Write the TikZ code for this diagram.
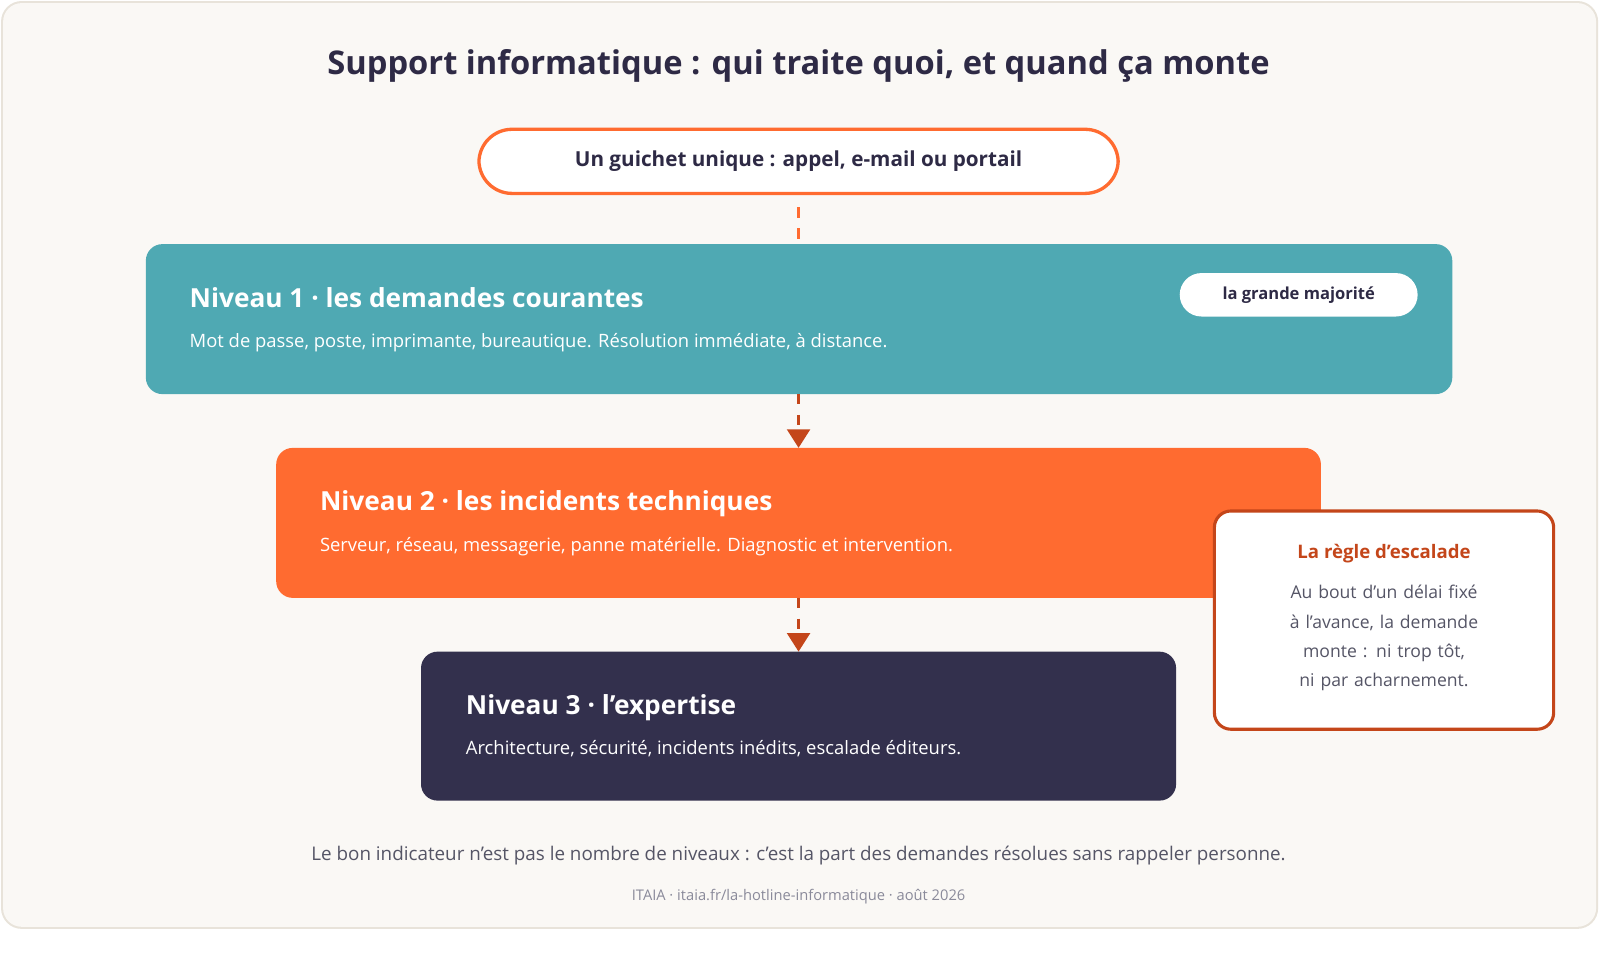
\documentclass[tikz,border=0pt]{standalone}
\usepackage{fontspec}
\setmainfont{Open Sans}
\usetikzlibrary{arrows.meta}
\definecolor{bgc}{HTML}{FAF8F5}
\definecolor{bord}{HTML}{E8E3DA}
\definecolor{ink}{HTML}{2E2A45}
\definecolor{teal}{HTML}{4FA9B3}
\definecolor{orng}{HTML}{FF6B30}
\definecolor{dorng}{HTML}{C4461A}
\definecolor{navy}{HTML}{33304D}
\definecolor{grey}{HTML}{555566}
\definecolor{lgrey}{HTML}{8A8A9A}
\newcommand{\fs}[1]{\fontsize{#1}{1.2\dimexpr #1pt\relax}\selectfont}
\begin{document}
\begin{tikzpicture}[x=0.5pt,y=-0.5pt,
  lvl/.style={rounded corners=8pt,draw=none},
  ttl/.style={anchor=base west,inner sep=0pt,text=white,font=\fs{12.7}\bfseries},
  sub/.style={anchor=base west,inner sep=0pt,text=white,font=\fs{8.9}},
  dashln/.style={dorng,line width=1.6pt,dash pattern=on 5pt off 5pt},
  arr/.style={dashln,-{Triangle[length=9pt,width=11pt]}}]
\useasboundingbox (0,0) rectangle (1570,923.5);
\fill[bord,rounded corners=10pt] (1,1) rectangle (1545,898);
\fill[bgc,rounded corners=9pt] (3,3) rectangle (1543,896);
\node[font=\fs{15.8}\bfseries,text=ink] (title) at (772,64) {Support informatique : qui traite quoi, et quand ça monte};
\node[draw=orng,line width=1.6pt,fill=white,rounded corners=16pt,minimum width=309pt,minimum height=31pt,font=\fs{10}\bfseries,text=ink] (g) at (772,156) {Un guichet unique : appel, e-mail ou portail};
% levels
\path[lvl,fill=teal] (141,236) rectangle (1404,381);
\coordinate (l1t) at (772,236); \coordinate (l1b) at (772,381);
\node[ttl] (n1) at (183,297) {Niveau 1 · les demandes courantes};
\node[sub] (s1) at (183,336) {Mot de passe, poste, imprimante, bureautique. Résolution immédiate, à distance.};
\node[fill=white,rounded corners=10.5pt,minimum width=115pt,minimum height=21pt,font=\fs{8}\bfseries,text=ink] (pill) at (1255.5,285) {la grande majorité};
\path[lvl,fill=orng] (267,433) rectangle (1277,578);
\coordinate (l2t) at (772,433); \coordinate (l2b) at (772,578);
\node[ttl] (n2) at (309,494) {Niveau 2 · les incidents techniques};
\node[sub] (s2) at (309,533) {Serveur, réseau, messagerie, panne matérielle. Diagnostic et intervention.};
\path[lvl,fill=navy] (407,630) rectangle (1137,774);
\coordinate (l3t) at (772,630);
\node[ttl] (n3) at (450,691) {Niveau 3 · l’expertise};
\node[sub] (s3) at (450,729) {Architecture, sécurité, incidents inédits, escalade éditeurs.};
\draw[orng,line width=1.6pt,dash pattern=on 5pt off 5pt] (g.south) ++(0,12) -- (l1t);
\draw[arr] (l1b) -- (l2t);
\draw[arr] (l2b) -- (l3t);
% side box
\draw[dorng,line width=1.5pt,fill=white,rounded corners=8pt] (1174,494) rectangle (1502,705);
\node[font=\fs{9}\bfseries,text=dorng] (rt) at (1338,535) {La règle d’escalade};
\node[font=\fs{8.5},text=grey,align=center,text width=150pt,execute at begin node={\baselineskip=14.2pt}] (rb) at (1338,617) {Au bout d’un délai fixé\\à l’avance, la demande\\monte : ni trop tôt,\\ni par acharnement.};
\node[font=\fs{9.1},text=grey] (foot) at (772,827) {Le bon indicateur n’est pas le nombre de niveaux : c’est la part des demandes résolues sans rappeler personne.};
\node[font=\fs{7.1},text=lgrey] (cred) at (772,867) {ITAIA · itaia.fr/la-hotline-informatique · août 2026};
\end{tikzpicture}
\end{document}
